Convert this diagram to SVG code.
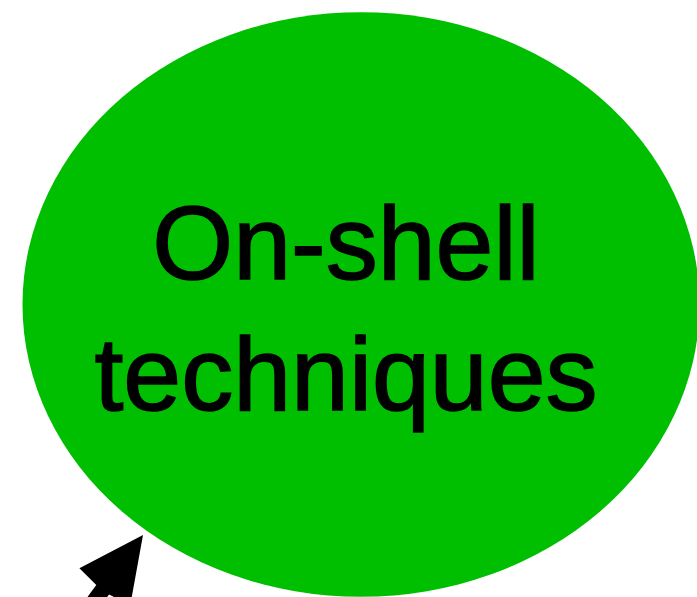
<svg xmlns="http://www.w3.org/2000/svg" width="697" height="597" viewBox="0 0 697 597">
  <style>
    .node-shape { fill: #00bf00; stroke: none; }
    .node-label { font-family: "Liberation Sans", Arial, Helvetica, sans-serif; font-size: 104px; fill: #000000; stroke: #000000; stroke-width: 1.6px; text-anchor: middle; }
    .arrow { fill: #000000; stroke: none; }
  </style>
  <rect width="697" height="597" fill="#ffffff"/>
  <g id="node-onshell">
    <ellipse class="node-shape" cx="361" cy="304.5" rx="338.5" ry="292.3"/>
    <text class="node-label" x="346" y="279">On-shell</text>
    <text class="node-label" x="346" y="410">techniques</text>
  </g>
  <g id="connectors">
    <polygon class="arrow" points="143,535 130.2,605.6 109.1,594.4 60.4,660.5 47.6,651.1 96.3,585 79.4,568.2"/>
  </g>
</svg>
